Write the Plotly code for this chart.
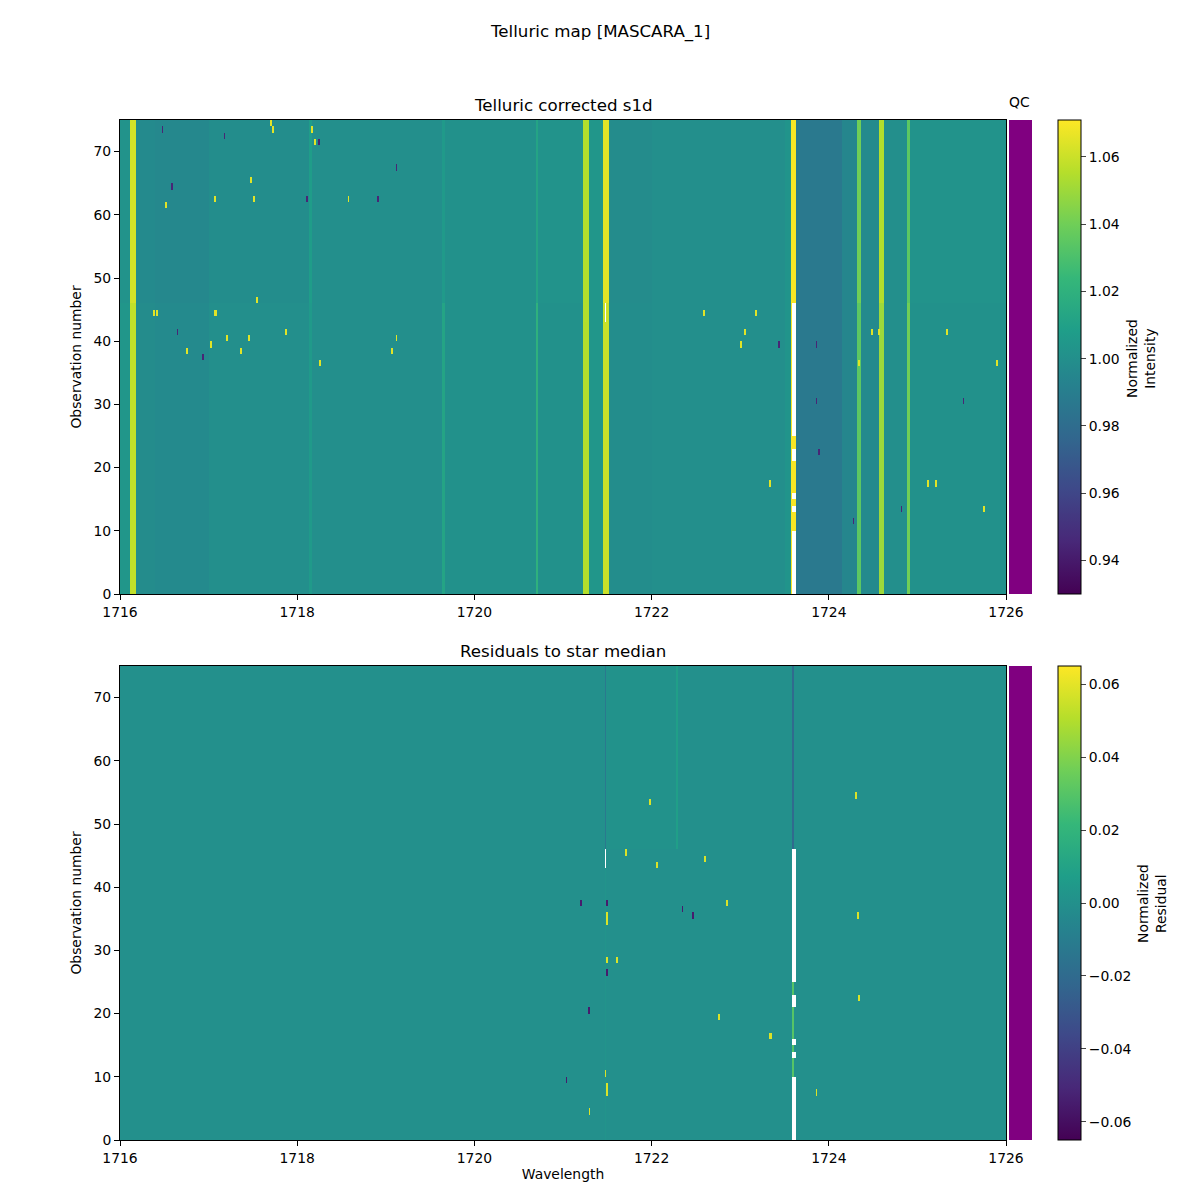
import numpy as np
import plotly.graph_objects as go

# NOTE: cell-level noise of the reference is not legible at this resolution and is not simulated.
# The maps hold estimated mean levels per wavelength segment plus the flecks that could be read.
N_OBS = 75
SPLIT_ROW = 46
X_TICKS = [1716, 1718, 1720, 1722, 1724, 1726]
Y_TICKS = [0, 10, 20, 30, 40, 50, 60, 70]

# Column segments: wavelength edges and estimated mean level above / below SPLIT_ROW
TOP_EDGES = [1716.00, 1716.11, 1716.18, 1716.40, 1717.00, 1718.13, 1718.17, 1719.63, 1719.67, 1720.69,
             1720.72, 1721.23, 1721.29, 1721.45, 1721.52, 1722.00, 1723.50, 1723.57,
             1723.63, 1724.15, 1724.32, 1724.36, 1724.57, 1724.62, 1724.88, 1724.92, 1726.00]
TOP_UPPER = [1.002, 1.062, 0.997, 0.996, 0.999, 1.008, 1.000, 1.006, 1.001,
             1.012, 1.002, 1.055, 1.004, 1.065, 0.998, 1.000, 1.003, 1.070,
             0.987, 0.995, 1.040, 0.997, 1.055, 1.000, 1.035, 1.002]
TOP_LOWER = [1.004, 1.058, 0.998, 0.997, 1.000, 1.006, 1.000, 1.012, 1.001,
             1.020, 1.001, 1.055, 1.004, 1.060, 0.999, 1.000, 1.003, 1.070,
             0.987, 0.995, 1.035, 0.997, 1.050, 1.000, 1.040, 1.001]

BOT_EDGES = [1716.00, 1721.47, 1721.49, 1722.28, 1722.30, 1723.59, 1723.61, 1726.00]
BOT_UPPER = [0.000, -0.012, 0.001, 0.008, 0.000, -0.020, 0.000]
BOT_LOWER = [0.000, 0.002, 0.000, 0.000, 0.000, 0.030, 0.000]

# Missing (white) runs of rows in the two strongest lines
GAP_W1 = [1723.585, 1723.625]
GAP_ROWS1 = [(0, 10), (13, 14), (15, 16), (21, 23), (25, 46)]
GAP_W2 = [1721.47, 1721.49]
GAP_ROWS2 = [(43, 46)]

# Individually legible flecks: wavelength, observation
TOP_BRIGHT_W = [1717.065, 1717.09, 1716.376, 1716.41, 1717.37, 1717.03, 1716.76, 1717.20, 1717.45, 1717.87,
                1719.12, 1719.07, 1718.26, 1717.50, 1717.07, 1716.52, 1717.47, 1717.72, 1718.16, 1717.69,
                1718.19, 1718.58, 1717.55, 1724.48, 1724.57, 1725.33, 1725.12, 1725.20, 1725.89, 1723.00,
                1723.17, 1723.34, 1723.05, 1722.59, 1725.74, 1724.34]
TOP_BRIGHT_R = [44, 44, 44, 44, 38, 39, 38, 40, 40, 41,
                40, 38, 36, 62, 62, 61, 65, 73, 73, 74,
                71, 62, 46, 41, 41, 41, 17, 17, 36, 39,
                44, 17, 41, 44, 13, 36]
TOP_DARK_W = [1716.93, 1716.59, 1717.17, 1716.47, 1718.24, 1718.11, 1718.90, 1719.12, 1716.64,
              1723.86, 1723.88, 1723.86, 1723.43, 1724.28, 1724.82, 1725.52]
TOP_DARK_R = [37, 64, 72, 73, 71, 62, 62, 67, 41, 39, 22, 30, 39, 11, 13, 30]
BOT_BRIGHT_W = [1722.60, 1722.06, 1721.70, 1724.33, 1721.49, 1721.49, 1721.49, 1721.61, 1722.85, 1723.34,
                1723.35, 1722.75, 1723.62, 1723.86, 1721.47, 1721.49, 1721.49, 1724.31, 1721.97, 1724.34, 1721.30]
BOT_BRIGHT_R = [44, 43, 45, 35, 35, 34, 28, 28, 37, 16,
                16, 19, 7, 7, 10, 8, 7, 54, 53, 22, 4]
BOT_DARK_W = [1721.04, 1721.49, 1721.49, 1722.35, 1722.46, 1721.19, 1721.29]
BOT_DARK_R = [9, 26, 37, 36, 35, 37, 20]

QC_FLAGS = [0] * N_OBS

TOP_Z = [0.93, 1.071, 1.065, 0.945]
BOT_Z = [-0.065, 0.065, 0.058, -0.055]
CB_TOP = [0.94, 0.96, 0.98, 1.00, 1.02, 1.04, 1.06]
CB_BOT = [-0.06, -0.04, -0.02, 0.00, 0.02, 0.04, 0.06]

wave = np.arange(1716.005, 1726.0, 0.01)
rows = np.arange(N_OBS) + 0.5


def build(edges, upper, lower, bright_w, bright_r, dark_w, dark_r, hi, lo):
    z = np.zeros((N_OBS, wave.size))
    idx = np.clip(np.searchsorted(edges, wave) - 1, 0, len(upper) - 1)
    z[:SPLIT_ROW, :] = np.asarray(lower)[idx]
    z[SPLIT_ROW:, :] = np.asarray(upper)[idx]
    for w, r in zip(bright_w, bright_r):
        j = int((w - 1716.0) / 0.01)
        z[r, j:j + 2] = hi
    for w, r in zip(dark_w, dark_r):
        j = int((w - 1716.0) / 0.01)
        z[r, j:j + 2] = lo
    for band, runs in ((GAP_W1, GAP_ROWS1), (GAP_W2, GAP_ROWS2)):
        mask = (wave >= band[0]) & (wave <= band[1])
        for a, b in runs:
            z[a:b, mask] = np.nan
    return z


top = build(TOP_EDGES, TOP_UPPER, TOP_LOWER, TOP_BRIGHT_W, TOP_BRIGHT_R, TOP_DARK_W, TOP_DARK_R, TOP_Z[2], TOP_Z[3])
bot = build(BOT_EDGES, BOT_UPPER, BOT_LOWER, BOT_BRIGHT_W, BOT_BRIGHT_R, BOT_DARK_W, BOT_DARK_R, BOT_Z[2], BOT_Z[3])

FONT = "DejaVu Sans"
S = 13.9
T = 16.67
ML, MR, MT, MB = 60, 15, 15, 15
PW = 1200.0 - ML - MR
PH = 1200.0 - MT - MB


def fx(px):
    return (px - ML) / PW


def fy(py):
    return 1 - (py - MT) / PH


def cbar(ticks, py_bottom):
    return dict(tickvals=ticks, tickformat=".2f", ticks="outside", ticklen=5, tickwidth=1,
                tickfont=dict(family=FONT, size=S, color="black"),
                x=fx(1058), xanchor="left", xpad=0, thickness=23,
                y=fy(py_bottom), yanchor="bottom", ypad=0, len=474 / PH, lenmode="fraction",
                outlinecolor="black", outlinewidth=1)


fig = go.Figure()
fig.add_trace(go.Heatmap(x=wave, y=rows, z=top, colorscale="Viridis", zmin=TOP_Z[0], zmax=TOP_Z[1],
                         xaxis="x", yaxis="y", colorbar=cbar(CB_TOP, 594)))
fig.add_trace(go.Heatmap(x=wave, y=rows, z=bot, colorscale="Viridis", zmin=BOT_Z[0], zmax=BOT_Z[1],
                         xaxis="x2", yaxis="y2", colorbar=cbar(CB_BOT, 1140)))
purple = [[0, "#800080"], [1, "#800080"]]
qc = [[f] for f in QC_FLAGS]
fig.add_trace(go.Heatmap(x=[0], y=rows, z=qc, colorscale=purple, showscale=False, xaxis="x3", yaxis="y3"))
fig.add_trace(go.Heatmap(x=[0], y=rows, z=qc, colorscale=purple, showscale=False, xaxis="x4", yaxis="y4"))

ax = dict(showgrid=False, zeroline=False, showline=True, linecolor="black", linewidth=1, mirror=True,
          ticks="outside", ticklen=5, tickwidth=1, tickcolor="black", automargin=False,
          tickfont=dict(family=FONT, size=S, color="black"))
dom_x = [fx(120), fx(1006)]
dom_qc = [fx(1009), fx(1032)]
dom_t = [fy(594), fy(120)]
dom_b = [fy(1140), fy(666)]
title_font = dict(family=FONT, size=S, color="black")


def xa(**k):
    return dict(ax, range=[1716, 1726], tickvals=X_TICKS, **k)


def ya(**k):
    return dict(ax, range=[0, N_OBS], tickvals=Y_TICKS,
                title=dict(text="Observation number", font=title_font, standoff=8), **k)


def note(text, px, py, size=S, angle=0):
    return dict(text=text, x=fx(px), y=fy(py), xref="paper", yref="paper", showarrow=False,
                xanchor="center", yanchor="middle", textangle=angle,
                font=dict(family=FONT, size=size, color="black"))


hidden = dict(showgrid=False, zeroline=False, showticklabels=False, ticks="", showline=False, automargin=False)
fig.update_layout(
    width=1200, height=1200, margin=dict(l=ML, r=MR, t=MT, b=MB, pad=0), autosize=False,
    paper_bgcolor="white", plot_bgcolor="white", showlegend=False,
    xaxis=xa(domain=dom_x, anchor="y"),
    yaxis=ya(domain=dom_t, anchor="x"),
    xaxis2=xa(domain=dom_x, anchor="y2", title=dict(text="Wavelength", font=title_font, standoff=4)),
    yaxis2=ya(domain=dom_b, anchor="x2"),
    xaxis3=dict(hidden, domain=dom_qc, anchor="y3"),
    yaxis3=dict(hidden, domain=dom_t, anchor="x3", range=[0, N_OBS]),
    xaxis4=dict(hidden, domain=dom_qc, anchor="y4"),
    yaxis4=dict(hidden, domain=dom_b, anchor="x4", range=[0, N_OBS]),
    annotations=[
        note("Telluric map [MASCARA_1]", 600, 32, T),
        note("Telluric corrected s1d", 563, 106, T),
        note("Residuals to star median", 563, 651, T),
        note("QC", 1019, 102),
        note("Normalized<br>Intensity", 1141, 359, S, -90),
        note("Normalized<br>Residual", 1152, 904, S, -90),
    ],
)
fig.write_html("out.html", config=dict(displayModeBar=False), post_script="document.body.style.margin='0';")
